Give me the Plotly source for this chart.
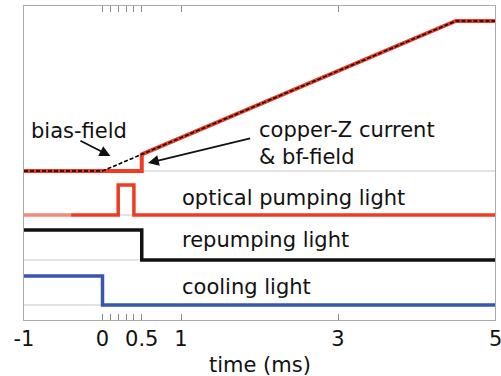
import plotly.graph_objects as go

# ---- data (time in ms, signal levels normalized 0..1) ----
cool_t = [-1, 0, 0, 5]
cool_v = [1, 1, 0, 0]

rep_t = [-1, 0.5, 0.5, 5]
rep_v = [1, 1, 0, 0]

opt_t = [-0.4, 0.2, 0.2, 0.4, 0.4, 5]
opt_v = [0, 0, 1, 1, 0, 0]
opt_pre_t = [-1, -0.4]
opt_pre_v = [0, 0]

cu_t = [-1, 0, 0.5, 0.5, 4.5, 5]
cu_v = [0, 0, 0, 0.111, 1, 1]

bf_t = [-1, 0, 4.5, 5]
bf_v = [0, 0, 1, 1]

tick_vals = [-1, 0, 0.1, 0.2, 0.3, 0.4, 0.5, 1, 3]
tick_text = ["-1", "0", "", "", "", "", "0.5", "1", "3"]

# ---- layout constants (channel baseline offset, amplitude) ----
COOL = (15, 29)
REP = (60, 30)
OPT = (105, 30)
CU = (149, 150)

def place(vals, ch):
    off, amp = ch
    return [off + amp * v for v in vals]

fig = go.Figure()
# gray baselines
for ch in (COOL, REP, OPT, CU):
    fig.add_trace(go.Scatter(x=[-1, 5], y=[ch[0], ch[0]], mode="lines",
                             line=dict(color="#c8c8c8", width=1.2), hoverinfo="skip"))

fig.add_trace(go.Scatter(x=cool_t, y=place(cool_v, COOL), mode="lines",
                         line=dict(color="#3656b0", width=3.5)))
fig.add_trace(go.Scatter(x=rep_t, y=place(rep_v, REP), mode="lines",
                         line=dict(color="#111111", width=3.5)))
fig.add_trace(go.Scatter(x=opt_pre_t, y=place(opt_pre_v, OPT), mode="lines",
                         line=dict(color="#f48a78", width=3.5)))
fig.add_trace(go.Scatter(x=opt_t, y=place(opt_v, OPT), mode="lines",
                         line=dict(color="#f03a22", width=3.5)))
fig.add_trace(go.Scatter(x=cu_t, y=place(cu_v, CU), mode="lines",
                         line=dict(color="#f03a22", width=4)))
fig.add_trace(go.Scatter(x=bf_t, y=place(bf_v, CU), mode="lines",
                         line=dict(color="#000000", width=1.6, dash="4px,2px")))

FAM = "DejaVu Sans"
FONT = dict(family=FAM, size=21, color="#111111")

def label(text, x, y, xanchor="left"):
    fig.add_annotation(x=x, y=y, xref="x", yref="y", text=text, showarrow=False,
                       xanchor=xanchor, yanchor="middle", font=FONT, align="left")

label("optical pumping light", 0.99, 122)
label("repumping light", 0.99, 80)
label("cooling light", 0.99, 33)
label("bias-field", -0.94, 189)
label("copper-Z current<br>&amp; bf-field", 1.97, 177)

# arrows
fig.add_annotation(x=0.1, y=164, ax=-0.3, ay=180, xref="x", yref="y", axref="x", ayref="y",
                   text="", showarrow=True, arrowhead=2, arrowsize=1.2, arrowwidth=1.8,
                   arrowcolor="#111111")
fig.add_annotation(x=0.58, y=157, ax=1.9, ay=182, xref="x", yref="y", axref="x", ayref="y",
                   text="", showarrow=True, arrowhead=2, arrowsize=1.2, arrowwidth=1.8,
                   arrowcolor="#111111")

# edge tick label at range end
fig.add_annotation(x=5, y=0, xref="x", yref="paper", text="5", showarrow=False,
                   xanchor="center", yanchor="top", yshift=-5,
                   font=dict(family=FAM, size=21, color="#111111"))
# axis title
fig.add_annotation(x=0.5, y=0, xref="paper", yref="paper", text="time (ms)", showarrow=False,
                   xanchor="center", yanchor="middle", yshift=-45,
                   font=dict(family=FAM, size=21, color="#111111"))

fig.update_layout(
    width=501, height=376,
    margin=dict(l=24, r=6, t=6, b=56),
    paper_bgcolor="white", plot_bgcolor="white",
    showlegend=False,
    xaxis=dict(range=[-1, 5], tickmode="array", tickvals=tick_vals, ticktext=tick_text,
               ticks="inside", ticklen=6, tickcolor="#888888", tickwidth=1,
               showgrid=False, zeroline=False, showline=True, linecolor="#aaaaaa",
               linewidth=1.2, mirror="ticks", automargin=False,
               tickfont=dict(family=FAM, size=21, color="#111111")),
    yaxis=dict(range=[0, 314], showticklabels=False, ticks="", showgrid=False,
               zeroline=False, showline=True, linecolor="#aaaaaa", linewidth=1.2,
               mirror=True, automargin=False),
)

fig.write_html("out.html")
